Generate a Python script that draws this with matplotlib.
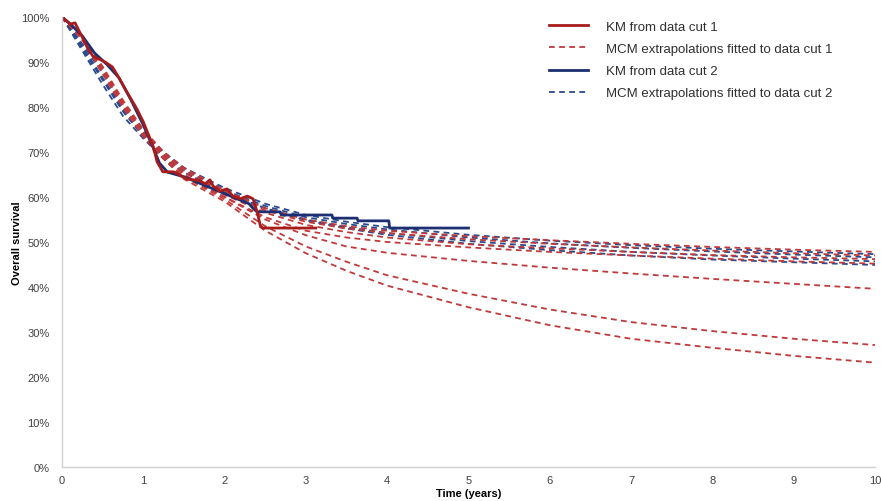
import matplotlib
matplotlib.use("Agg")
import matplotlib.pyplot as plt
from matplotlib.ticker import FuncFormatter

plt.rcParams['font.family'] = ['Liberation Sans', 'DejaVu Sans']

# Kaplan-Meier, data cut 1
km1_t = [0, 0.10, 0.16, 0.25, 0.32, 0.38, 0.53, 0.62, 0.71, 0.80, 0.92, 1.00, 1.12,
         1.17, 1.24, 1.37, 1.54, 1.70, 1.76, 1.82, 1.86, 1.94, 2.03, 2.10, 2.19, 2.28,
         2.35, 2.40, 2.44, 2.47, 2.68, 3.12]
km1_s = [100, 98.4, 98.7, 95.5, 92.9, 91.3, 90.0, 88.9, 86.2, 83.3, 79.6, 76.7, 71.3,
         67.8, 65.6, 65.6, 64.0, 63.6, 62.9, 63.8, 62.4, 61.3, 61.8, 60.2, 59.6, 60.2,
         59.6, 56.7, 53.6, 53.1, 53.1, 53.1]

# Kaplan-Meier, data cut 2
km2_t = [0, 0.10, 0.25, 0.40, 0.55, 0.70, 0.85, 1.00, 1.12, 1.20, 1.30, 1.50, 1.70,
         1.90, 2.10, 2.30, 2.35, 2.40, 2.68, 2.70, 3.32, 3.33, 3.63, 3.64, 4.02, 4.03, 5.0]
km2_s = [100, 98.5, 95.8, 92.0, 89.5, 86.5, 81.5, 76.0, 71.0, 67.5, 65.5, 64.5, 63.0,
         61.5, 60.0, 58.5, 57.5, 56.7, 56.7, 56.0, 56.0, 55.3, 55.3, 54.7, 54.7, 53.1, 53.1]

# mixture cure model extrapolations
mcm_t = [0, 0.25, 0.5, 0.75, 1, 1.25, 1.5, 2, 2.5, 3, 3.5, 4, 5, 6, 7, 8, 9, 10]

mcm_cut1 = [
    [100, 95.5, 89.0, 81.5, 75.0, 70.0, 66.5, 61.5, 57.5, 55.0, 53.5, 52.5, 51.3, 50.4, 49.6, 48.9, 48.3, 47.8],
    [100, 95.5, 88.5, 81.0, 74.5, 69.5, 66.0, 61.0, 57.0, 54.5, 53.0, 52.0, 50.6, 49.6, 48.8, 48.1, 47.5, 47.0],
    [100, 95.0, 88.0, 80.5, 74.0, 69.0, 65.5, 60.5, 56.5, 53.8, 52.2, 51.0, 49.5, 48.6, 47.8, 47.1, 46.6, 46.2],
    [100, 95.0, 88.0, 80.5, 74.0, 69.0, 65.0, 60.0, 55.5, 52.5, 51.0, 50.0, 48.8, 47.8, 47.0, 46.3, 45.7, 45.2],
    [100, 95.0, 87.5, 80.0, 73.5, 68.5, 64.5, 60.0, 55.0, 51.5, 49.0, 47.6, 45.8, 44.3, 43.0, 41.8, 40.7, 39.6],
    [100, 95.0, 87.5, 80.0, 73.5, 68.5, 64.5, 59.5, 53.5, 49.0, 45.6, 42.6, 38.5, 35.0, 32.2, 30.2, 28.5, 27.1],
    [100, 95.0, 87.5, 80.0, 73.5, 68.5, 64.0, 59.0, 52.5, 47.5, 43.6, 40.3, 35.5, 31.5, 28.5, 26.5, 24.7, 23.2],
]

mcm_cut2 = [
    [100, 94.0, 87.5, 80.5, 74.5, 70.0, 66.5, 62.0, 58.5, 56.0, 54.5, 53.3, 51.6, 50.3, 49.3, 48.5, 47.9, 47.3],
    [100, 93.5, 86.5, 79.5, 74.0, 69.5, 66.0, 61.5, 58.0, 55.5, 54.0, 52.8, 51.0, 49.7, 48.7, 47.9, 47.2, 46.6],
    [100, 93.0, 86.0, 79.0, 73.5, 69.0, 65.5, 61.0, 57.5, 55.0, 53.3, 52.0, 50.2, 48.9, 47.8, 47.0, 46.3, 45.7],
    [100, 92.5, 85.0, 78.0, 73.0, 68.5, 65.5, 61.0, 57.5, 54.8, 53.0, 51.6, 49.6, 48.2, 47.0, 46.1, 45.5, 44.9],
]

red_km = '#A81B1B'
red_mcm = '#C0393B'
blue_km = '#1B2F72'
blue_mcm = '#2A4A8E'
dash = (0, (3.2, 2.4))

fig = plt.figure(figsize=(8.81, 5.02), dpi=100)
ax = fig.add_axes([62 / 881, 34 / 502, 813 / 881, 450 / 502])

for i, s in enumerate(mcm_cut2):
    ax.plot(mcm_t, s, color=blue_mcm, lw=1.3, ls=dash,
            label='MCM extrapolations fitted to data cut 2' if i == 0 else None)
for i, s in enumerate(mcm_cut1):
    ax.plot(mcm_t, s, color=red_mcm, lw=1.3, ls=dash,
            label='MCM extrapolations fitted to data cut 1' if i == 0 else None)

ax.plot(km2_t, km2_s, color=blue_km, lw=2.0, label='KM from data cut 2')
ax.plot(km1_t, km1_s, color=red_km, lw=2.0, label='KM from data cut 1')

ax.set_xlim(0, 10)
ax.set_ylim(0, 100)
ax.set_xticks(range(0, 11))
ax.set_yticks(range(0, 101, 10))
ax.yaxis.set_major_formatter(FuncFormatter(lambda v, p: f'{int(v)}%'))
ax.tick_params(length=0, labelsize=8, colors='#404040')
ax.tick_params(axis='y', pad=9)
ax.tick_params(axis='x', pad=6)

for side in ['top', 'right']:
    ax.spines[side].set_visible(False)
for side in ['left', 'bottom']:
    ax.spines[side].set_color('#D0D0D0')
    ax.spines[side].set_linewidth(1.0)

ax.set_xlabel('Time (years)', fontsize=8, fontweight='bold', va='top')
ax.xaxis.set_label_coords(0.5, -0.046)
ax.set_ylabel('Overall survival', fontsize=8, fontweight='bold')
ax.yaxis.set_label_coords(-0.049, 0.5)

handles, labels = ax.get_legend_handles_labels()
order = ['KM from data cut 1', 'MCM extrapolations fitted to data cut 1',
         'KM from data cut 2', 'MCM extrapolations fitted to data cut 2']
hl = dict(zip(labels, handles))
fig.legend([hl[k] for k in order], order, loc='upper left',
           bbox_to_anchor=(537 / 881, 1 - 9.5 / 502),
           frameon=False, fontsize=9.5, handlelength=2.95, handletextpad=1.36,
           labelspacing=0.76, labelcolor='#303030')

fig.savefig('out.png', dpi=100)
